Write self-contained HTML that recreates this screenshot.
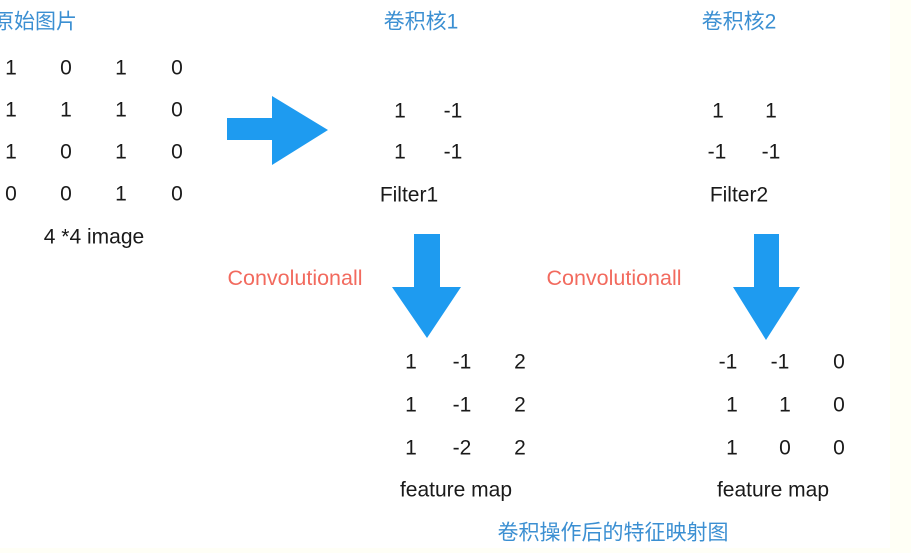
<!DOCTYPE html>
<html><head><meta charset="utf-8"><style>
html,body{margin:0;padding:0;background:#fffff6;}
svg{display:block;}
text{font-family:"Liberation Sans","Noto Sans CJK SC",sans-serif;font-size:21px;fill:#1a1a1a;}
.b{fill:#3b8fd2;}
.r{fill:#f26a5e;font-size:21.5px;}
</style></head><body>
<svg width="911" height="553" viewBox="0 0 911 553">
<rect x="0" y="0" width="890" height="548" fill="#ffffff"/>
<g text-anchor="middle" dominant-baseline="central">
<text class="b" x="77" y="22" text-anchor="end">原始图片</text>
<text class="b" x="421" y="22">卷积核1</text>
<text class="b" x="739" y="22">卷积核2</text>
<g>
<text x="11" y="68">1</text><text x="66" y="68">0</text><text x="121" y="68">1</text><text x="177" y="68">0</text>
<text x="11" y="110">1</text><text x="66" y="110">1</text><text x="121" y="110">1</text><text x="177" y="110">0</text>
<text x="11" y="152">1</text><text x="66" y="152">0</text><text x="121" y="152">1</text><text x="177" y="152">0</text>
<text x="11" y="194">0</text><text x="66" y="194">0</text><text x="121" y="194">1</text><text x="177" y="194">0</text>
<text x="94" y="237">4 *4 image</text>
</g>
<text x="400" y="111">1</text><text x="453" y="111">-1</text>
<text x="400" y="152">1</text><text x="453" y="152">-1</text>
<text x="409" y="195">Filter1</text>
<text x="718" y="111">1</text><text x="771" y="111">1</text>
<text x="717" y="152">-1</text><text x="771" y="152">-1</text>
<text x="739" y="195">Filter2</text>
<text class="r" x="295" y="278">Convolutionall</text>
<text class="r" x="614" y="278">Convolutionall</text>
<text x="411" y="362">1</text><text x="462" y="362">-1</text><text x="520" y="362">2</text>
<text x="411" y="405">1</text><text x="462" y="405">-1</text><text x="520" y="405">2</text>
<text x="411" y="448">1</text><text x="462" y="448">-2</text><text x="520" y="448">2</text>
<text x="456" y="490">feature map</text>
<text x="728" y="362">-1</text><text x="780" y="362">-1</text><text x="839" y="362">0</text>
<text x="732" y="405">1</text><text x="785" y="405">1</text><text x="839" y="405">0</text>
<text x="732" y="448">1</text><text x="785" y="448">0</text><text x="839" y="448">0</text>
<text x="773" y="490">feature map</text>
<text class="b" x="613" y="533">卷积操作后的特征映射图</text>
</g>
<polygon fill="#1e9bf0" points="227,118 272,118 272,96 328,130 272,165 272,140 227,140"/>
<polygon fill="#1e9bf0" points="414,234 440,234 440,287 461,287 427,338 392,287 414,287"/>
<polygon fill="#1e9bf0" points="754,234 779,234 779,287 800,287 766,340 733,287 754,287"/>
</svg>
</body></html>
